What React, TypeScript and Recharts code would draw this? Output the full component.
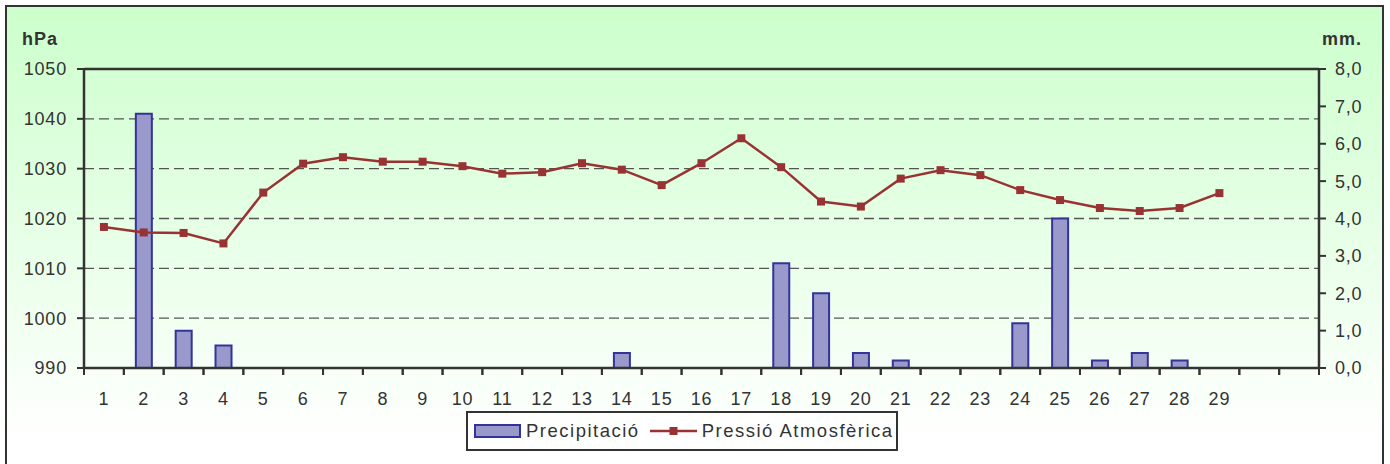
import React from "react";
import {
  ComposedChart,
  Bar,
  Line,
  XAxis,
  YAxis,
  CartesianGrid,
  ReferenceLine,
  Legend,
  Label,
} from "recharts";

// day of month (only 1..29 carry a label)
const days = [
  1, 2, 3, 4, 5, 6, 7, 8, 9, 10, 11, 12, 13, 14, 15, 16, 17, 18, 19, 20, 21,
  22, 23, 24, 25, 26, 27, 28, 29, 30, 31,
];
const lastLabelledDay = 29;

// mm
const precipitation = [
  0, 6.8, 1.0, 0.6, 0, 0, 0, 0, 0, 0, 0, 0, 0, 0.4, 0, 0, 0, 2.8, 2.0, 0.4,
  0.2, 0, 0, 1.2, 4.0, 0.2, 0.4, 0.2, 0, null, null,
];

// hPa
const pressure = [
  1018.3, 1017.2, 1017.1, 1015.0, 1025.2, 1031.0, 1032.3, 1031.4, 1031.4,
  1030.5, 1029.0, 1029.3, 1031.1, 1029.8, 1026.7, 1031.1, 1036.1, 1030.3,
  1023.4, 1022.4, 1028.0, 1029.7, 1028.7, 1025.7, 1023.7, 1022.1, 1021.5,
  1022.1, 1025.1, null, null,
];

const pressureTicks = [990, 1000, 1010, 1020, 1030, 1040, 1050];
const precipTicks = [0, 1, 2, 3, 4, 5, 6, 7, 8];

const precipName = "Precipitació";
const pressureName = "Pressió Atmosfèrica";

const data = days.map((d, i) => ({
  day: d,
  precip: precipitation[i],
  pressure: pressure[i],
}));

const FONT = "'Liberation Sans', Arial, sans-serif";
const INK = "#333333";
const BAR_FILL = "#9999cc";
const BAR_EDGE = "#333399";
const LINE_COLOR = "#993333";

const tickStyle = { fontFamily: FONT, fontSize: 18, fill: INK, letterSpacing: 0.8 };
const unitStyle = { fontFamily: FONT, fontSize: 18, fontWeight: "bold", fill: INK, letterSpacing: 1 };

const DayTick = (props: any) => {
  const { x, y, payload } = props;
  const half = payload && payload.offset ? payload.offset : 19.92;
  const label = payload.value <= lastLabelledDay ? String(payload.value) : "";
  return (
    <g>
      <line x1={x - half} x2={x - half} y1={y} y2={y + 7} stroke={INK} strokeWidth={2} />
      <line x1={x + half} x2={x + half} y1={y} y2={y + 7} stroke={INK} strokeWidth={2} />
      <text x={x} y={y + 37} textAnchor="middle" style={tickStyle}>
        {label}
      </text>
    </g>
  );
};

const SquareDot = (props: any) => {
  const { cx, cy, index } = props;
  if (cx == null || cy == null) return <g key={index} />;
  return <rect key={index} x={cx - 4} y={cy - 4} width={8} height={8} fill={LINE_COLOR} />;
};

const LegendBox = () => (
  <div
    style={{
      boxSizing: "border-box",
      width: 432,
      height: 40,
      border: `2px solid ${INK}`,
      background: "#fff",
      display: "flex",
      alignItems: "center",
      fontFamily: FONT,
      fontSize: 18.5,
      letterSpacing: 1.5,
      color: INK,
      paddingLeft: 6,
      whiteSpace: "nowrap",
    }}
  >
    <span
      style={{
        display: "inline-block",
        boxSizing: "border-box",
        width: 47,
        height: 14,
        background: BAR_FILL,
        border: `2px solid ${BAR_EDGE}`,
        marginRight: 5,
      }}
    />
    <span>{precipName}</span>
    <svg width={47} height={14} style={{ marginLeft: 10, marginRight: 5 }}>
      <line x1={0} x2={47} y1={7} y2={7} stroke={LINE_COLOR} strokeWidth={2.5} />
      <rect x={19.5} y={3} width={8} height={8} fill={LINE_COLOR} />
    </svg>
    <span>{pressureName}</span>
  </div>
);

export default function App() {
  return (
    <div style={{ position: "relative", width: 1390, height: 464, overflow: "hidden" }}>
      <style>{`body{margin:0}`}</style>
      <div
        style={{
          position: "absolute",
          left: 5,
          top: 5,
          width: 1379,
          height: 480,
          boxSizing: "border-box",
          border: `2px solid ${INK}`,
          background: "linear-gradient(to bottom, #ccffcc 0px, #ffffff 430px)",
        }}
      />
      <div style={{ position: "absolute", left: 0, top: 0 }}>
        <ComposedChart
          width={1390}
          height={464}
          data={data}
          margin={{ top: 69, right: 0, bottom: 66, left: 0 }}
        >
          <CartesianGrid
            yAxisId="hpa"
            vertical={false}
            stroke="#555555"
            strokeWidth={1.3}
            strokeDasharray="10 5"
          />
          <XAxis
            dataKey="day"
            interval={0}
            height={30}
            tickSize={0}
            tickMargin={0}
            tickLine={false}
            tick={<DayTick />}
            axisLine={{ stroke: INK, strokeWidth: 2.5 }}
          />
          <YAxis
            yAxisId="hpa"
            orientation="left"
            width={84}
            domain={[990, 1050]}
            ticks={pressureTicks}
            interval={0}
            tickSize={7}
            tickMargin={10}
            tick={tickStyle}
            tickLine={{ stroke: INK, strokeWidth: 2 }}
            axisLine={{ stroke: INK, strokeWidth: 2.5 }}
          >
            <Label
              content={(p: any) => (
                <text x={22} y={p.viewBox.y - 24} style={unitStyle}>
                  hPa
                </text>
              )}
            />
          </YAxis>
          <YAxis
            yAxisId="mm"
            orientation="right"
            width={71}
            domain={[0, 8]}
            ticks={precipTicks}
            interval={0}
            tickSize={7}
            tickMargin={9}
            tick={tickStyle}
            tickFormatter={(v) => Number(v).toFixed(1).replace(".", ",")}
            tickLine={{ stroke: INK, strokeWidth: 2 }}
            axisLine={{ stroke: INK, strokeWidth: 2.5 }}
          >
            <Label
              content={(p: any) => (
                <text x={p.viewBox.x + 3} y={p.viewBox.y - 24} style={unitStyle}>
                  mm.
                </text>
              )}
            />
          </YAxis>
          <ReferenceLine yAxisId="hpa" y={1050} stroke={INK} strokeWidth={2.5} />
          <Bar
            yAxisId="mm"
            dataKey="precip"
            name={precipName}
            barSize={16}
            fill={BAR_FILL}
            stroke={BAR_EDGE}
            strokeWidth={2}
            isAnimationActive={false}
          />
          <Line
            yAxisId="hpa"
            dataKey="pressure"
            name={pressureName}
            type="linear"
            stroke={LINE_COLOR}
            strokeWidth={2.5}
            dot={<SquareDot />}
            activeDot={false}
            isAnimationActive={false}
          />
          <Legend
            layout="horizontal"
            verticalAlign="middle"
            align="center"
            wrapperStyle={{ left: 466, top: 411, width: 432, height: 40 }}
            content={() => <LegendBox />}
          />
        </ComposedChart>
      </div>
    </div>
  );
}
